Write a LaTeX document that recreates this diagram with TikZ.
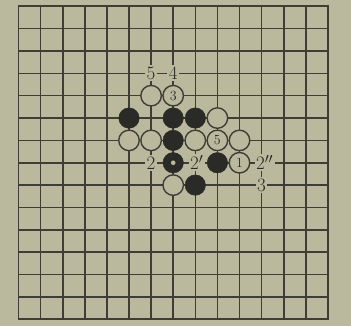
\documentclass[tikz,border=0pt]{standalone}
\definecolor{paper}{RGB}{186,185,158}
\definecolor{ink}{RGB}{62,62,54}
\definecolor{stoneblack}{RGB}{42,42,38}
\tikzset{
  gridline/.style={line width=1.6pt, draw=ink},
  wstone/.style={circle, draw=ink, line width=1.4pt, fill=paper, minimum size=20.5pt, inner sep=0pt, text=stoneblack, font=\fontsize{14}{14}\selectfont},
  bstone/.style={circle, draw=stoneblack, fill=stoneblack, minimum size=20.5pt, inner sep=0pt},
  lab/.style={fill=paper, inner sep=1.5pt, text=stoneblack, font=\fontsize{19}{19}\selectfont}
}
\begin{document}
\begin{tikzpicture}[x=1pt,y=1pt]
\fill[paper] (0,0) rectangle (351,-326);
\useasboundingbox (0,0) rectangle (351,-326);
\begin{scope}[shift={(18.5pt,-6.3pt)}, x=22.1pt, y=-22.35pt]
  \foreach \i in {0,...,14} {
    \draw[gridline] (\i,0) -- (\i,14);
    \draw[gridline] (0,\i) -- (14,\i);
  }
  \draw[gridline, line join=miter] (0,0) rectangle (14,14);
  % stones
  \node[wstone] (w64) at (6,4) {};
  \node[wstone] (w74) at (7,4) {3};
  \node[bstone] (b55) at (5,5) {};
  \node[bstone] (b75) at (7,5) {};
  \node[bstone] (b85) at (8,5) {};
  \node[wstone] (w95) at (9,5) {};
  \node[wstone] (w56) at (5,6) {};
  \node[wstone] (w66) at (6,6) {};
  \node[bstone] (b76) at (7,6) {};
  \node[wstone] (w86) at (8,6) {};
  \node[wstone] (w96) at (9,6) {5};
  \node[wstone] (w106) at (10,6) {};
  \node[bstone] (b77) at (7,7) {};
  \fill[paper] (b77.center) circle (2.3pt);
  \node[bstone] (b97) at (9,7) {};
  \node[wstone] (w107) at (10,7) {1};
  \node[wstone] (w78) at (7,8) {};
  \node[bstone] (b88) at (8,8) {};
  % labels
  \node[lab] (l63) at (6,3) {5};
  \node[lab] (l73) at (7,3) {4};
  \node[lab] (l67) at (6,7) {2};
  \node[lab, xshift=1.5pt] (l87) at (8,7) {2$'$};
  \node[lab, xshift=3pt] (l117) at (11,7) {2$''$};
  \node[lab] (l118) at (11,8) {3};
\end{scope}
\end{tikzpicture}
\end{document}
